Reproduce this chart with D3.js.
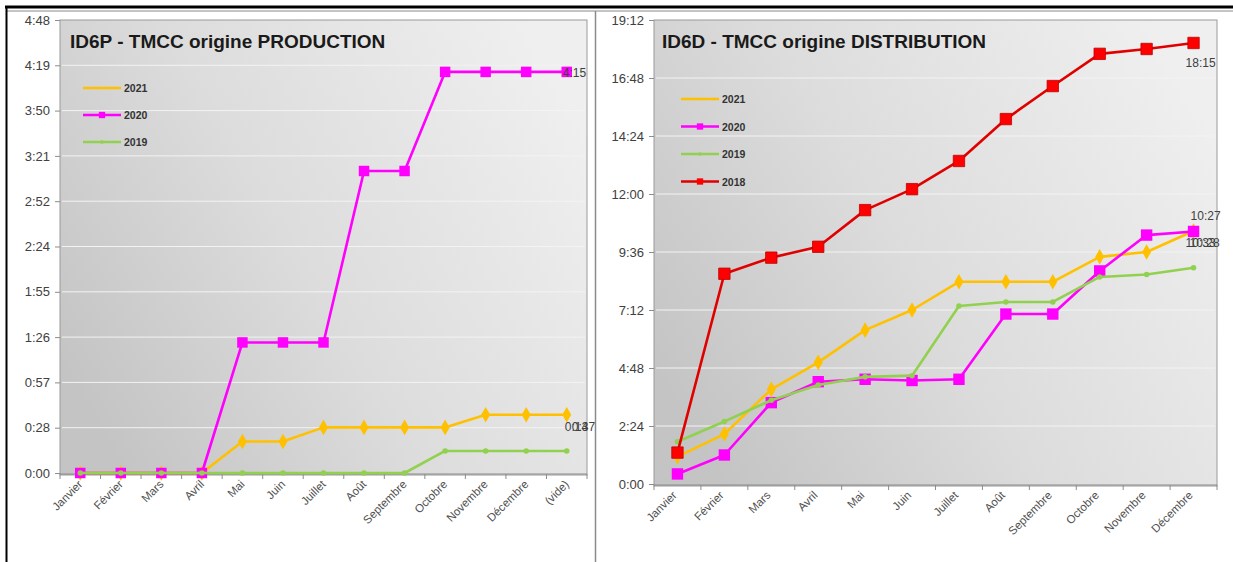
<!DOCTYPE html>
<html lang="fr">
    <head>
        <meta charset="utf-8">
        <title>ID6P / ID6D - TMCC</title>
        <script src="https://d3js.org/d3.v7.min.js"></script>
        <style type="text/css">
          body { margin: 0; background: #fff; }
          svg { width: 1233px; height: 562px; display: block; }
          .title { font-family: "Liberation Sans", Arial, sans-serif; font-size: 19px; font-weight: bold; fill: #1a1a1a; }
          .ylab { font-family: "Liberation Sans", Arial, sans-serif; font-size: 13px; fill: #404040; }
          .xlab { font-family: "Liberation Sans", Arial, sans-serif; font-size: 11.5px; fill: #505050; }
          .leg { font-family: "Liberation Sans", Arial, sans-serif; font-size: 10.5px; font-weight: bold; fill: #333; }
          .dlab { font-family: "Liberation Sans", Arial, sans-serif; font-size: 12px; fill: #404040; }
        </style>
    </head>
    <body>
        <svg></svg>
        <script type="text/javascript">

        // ---- data (durations as h:mm) ----
        const monthsP = ["Janvier", "Février", "Mars", "Avril", "Mai", "Juin", "Juillet", "Août", "Septembre", "Octobre", "Novembre", "Décembre", "(vide)"];
        const prod2021 = ["0:00", "0:00", "0:00", "0:00", "0:20", "0:20", "0:29", "0:29", "0:29", "0:29", "0:37", "0:37", "0:37"];
        const prod2020 = ["0:00", "0:00", "0:00", "0:00", "1:23", "1:23", "1:23", "3:12", "3:12", "4:15", "4:15", "4:15", "4:15"];
        const prod2019 = ["0:00", "0:00", "0:00", "0:00", "0:00", "0:00", "0:00", "0:00", "0:00", "0:14", "0:14", "0:14", "0:14"];
        const prodTicks = ["0:00", "0:28", "0:57", "1:26", "1:55", "2:24", "2:52", "3:21", "3:50", "4:19", "4:48"];
        const prodEndLabels = ["0:37", "4:15", "0:14"];

        const monthsD = ["Janvier", "Février", "Mars", "Avril", "Mai", "Juin", "Juillet", "Août", "Septembre", "Octobre", "Novembre", "Décembre"];
        const dist2021 = ["1:08", "2:04", "3:55", "5:02", "6:22", "7:12", "8:22", "8:22", "8:22", "9:24", "9:36", "10:28"];
        const dist2020 = ["0:25", "1:12", "3:22", "4:14", "4:20", "4:17", "4:20", "7:02", "7:02", "8:49", "10:18", "10:27"];
        const dist2019 = ["1:45", "2:35", "3:28", "4:06", "4:26", "4:29", "7:22", "7:32", "7:32", "8:34", "8:40", "8:57"];
        const dist2018 = ["1:18", "8:42", "9:22", "9:49", "11:20", "12:12", "13:22", "15:06", "16:28", "17:48", "18:00", "18:15"];
        const distTicks = ["0:00", "2:24", "4:48", "7:12", "9:36", "12:00", "14:24", "16:48", "19:12"];
        const distEndLabels = ["10:28", "10:27", "10:33", "18:15"];

        const toMin = s => { const p = s.split(":"); return +p[0] * 60 + +p[1]; };

        const svg = d3.select("svg");
        const defs = svg.append("defs");

        // plot area fill + inner shadow
        const grad = defs.append("linearGradient").attr("id", "plotGrad")
            .attr("x1", 0).attr("y1", 0.75).attr("x2", 1).attr("y2", 0.25);
        grad.append("stop").attr("offset", 0).attr("stop-color", "#c4c4c4");
        grad.append("stop").attr("offset", 0.45).attr("stop-color", "#dcdcdc");
        grad.append("stop").attr("offset", 1).attr("stop-color", "#efefef");

        const f = defs.append("filter").attr("id", "inset").attr("x", 0).attr("y", 0).attr("width", 1).attr("height", 1);
        f.append("feFlood").attr("flood-color", "#000").attr("flood-opacity", 0.6);
        f.append("feComposite").attr("in2", "SourceAlpha").attr("operator", "out");
        f.append("feGaussianBlur").attr("stdDeviation", 3.5);
        f.append("feOffset").attr("dx", 0).attr("dy", 1);
        f.append("feComposite").attr("in2", "SourceAlpha").attr("operator", "in").attr("result", "shadow");
        const fm = f.append("feMerge");
        fm.append("feMergeNode").attr("in", "SourceGraphic");
        fm.append("feMergeNode").attr("in", "shadow");

        // frame
        svg.append("line").attr("x1", 5).attr("x2", 1233).attr("y1", 7).attr("y2", 7)
           .attr("stroke", "#000").attr("stroke-width", 3);
        svg.append("line").attr("x1", 7).attr("x2", 1233).attr("y1", 11).attr("y2", 11)
           .attr("stroke", "#b0b0b0").attr("stroke-width", 1.5);
        svg.append("line").attr("x1", 6.5).attr("x2", 6.5).attr("y1", 6).attr("y2", 562)
           .attr("stroke", "#000").attr("stroke-width", 2);
        svg.append("line").attr("x1", 595.5).attr("x2", 595.5).attr("y1", 11).attr("y2", 562)
           .attr("stroke", "#8a8a8a").attr("stroke-width", 1.5);

        const marker = {
          diamond: d3.symbol().type(d3.symbolDiamond).size(70),
          square: d3.symbol().type(d3.symbolSquare).size(110),
          bigsquare: d3.symbol().type(d3.symbolSquare).size(130),
          circle: d3.symbol().type(d3.symbolCircle).size(24)
        };

        function drawChart(cfg) {
          const g = svg.append("g");
          const x = d3.scaleBand().domain(cfg.cats).range([cfg.left, cfg.right]);
          const tickVals = cfg.ticks.map((t, i) => i * cfg.step);
          const y = d3.scaleLinear().domain([0, d3.max(tickVals)]).range([cfg.bottom, cfg.top]);
          const cx = c => x(c) + x.bandwidth() / 2;

          g.append("rect")
           .attr("x", cfg.left).attr("y", cfg.top)
           .attr("width", cfg.right - cfg.left).attr("height", cfg.bottom - cfg.top + 2)
           .attr("fill", "url(#plotGrad)").attr("filter", "url(#inset)");
          g.append("rect")
           .attr("x", cfg.left).attr("y", cfg.top)
           .attr("width", cfg.right - cfg.left).attr("height", cfg.bottom - cfg.top + 2)
           .attr("fill", "none").attr("stroke", "#9a9a9a").attr("stroke-width", 1);

          // gridlines
          g.selectAll(".grid").data(tickVals.slice(1, -1)).enter().append("line")
           .attr("x1", cfg.left + 2).attr("x2", cfg.right - 2)
           .attr("y1", d => y(d)).attr("y2", d => y(d))
           .attr("stroke", "#f3f3f3").attr("stroke-width", 1);

          // y axis
          const yAxis = d3.axisLeft(y).tickValues(tickVals).tickSize(5)
                          .tickFormat((d, i) => cfg.ticks[i]);
          const ya = g.append("g").attr("transform", "translate(" + cfg.left + ",0)").call(yAxis);
          ya.select(".domain").remove();
          ya.selectAll(".tick line").attr("stroke", "#8c8c8c");
          ya.selectAll(".tick text").attr("class", "ylab").attr("x", -10).attr("fill", null);

          // x axis: ticks between categories
          g.append("line").attr("x1", cfg.left).attr("x2", cfg.right)
           .attr("y1", cfg.bottom + 1).attr("y2", cfg.bottom + 1)
           .attr("stroke", "#8c8c8c").attr("stroke-width", 1.2);
          g.selectAll(".xt").data(cfg.cats.concat([null])).enter().append("line")
           .attr("x1", (d, i) => cfg.left + i * x.bandwidth())
           .attr("x2", (d, i) => cfg.left + i * x.bandwidth())
           .attr("y1", cfg.bottom + 1).attr("y2", cfg.bottom + 6)
           .attr("stroke", "#8c8c8c");
          g.selectAll(".xl").data(cfg.cats).enter().append("text")
           .attr("class", "xlab")
           .attr("text-anchor", "end")
           .attr("transform", d => "translate(" + (cx(d) + cfg.xlabDx) + "," + (cfg.bottom + 12) + ") rotate(-45)")
           .text(d => d);

          // series
          const line = d3.line().x(d => cx(d.c)).y(d => y(d.v));
          cfg.series.forEach(s => {
            const pts = s.values.map((v, i) => ({ c: cfg.cats[i], v: toMin(v) }));
            g.append("path").attr("d", line(pts))
             .attr("fill", "none").attr("stroke", s.line || s.color)
             .attr("stroke-width", s.width || 2.6).attr("stroke-linejoin", "round");
            g.selectAll(null).data(pts).enter().append("path")
             .attr("d", marker[s.marker])
             .attr("transform", d => "translate(" + cx(d.c) + "," + y(d.v) + ")")
             .attr("fill", s.color).attr("stroke", s.mstroke || "none").attr("stroke-width", 0.8);
          });

          // end labels
          cfg.series.forEach((s, i) => {
            const last = s.values.length - 1;
            g.append("text").attr("class", "dlab")
             .attr("x", cx(cfg.cats[last]) + cfg.labelPos[i][0])
             .attr("y", y(toMin(s.values[last])) + cfg.labelPos[i][1])
             .text(cfg.endLabels[i]);
          });

          // legend
          cfg.series.forEach((s, i) => {
            const ly = cfg.legY + i * cfg.legGap;
            g.append("line").attr("x1", cfg.legX).attr("x2", cfg.legX + 38)
             .attr("y1", ly).attr("y2", ly)
             .attr("stroke", s.line || s.color).attr("stroke-width", 2.6);
            if (s.marker !== "diamond") {
              g.append("path").attr("d", d3.symbol().type(s.marker === "circle" ? d3.symbolCircle : d3.symbolSquare).size(s.marker === "circle" ? 10 : 40))
               .attr("transform", "translate(" + (cfg.legX + 19) + "," + ly + ")")
               .attr("fill", s.color);
            }
            g.append("text").attr("class", "leg")
             .attr("x", cfg.legX + 41).attr("y", ly + 4)
             .text(s.name);
          });

          // title
          g.append("text").attr("class", "title")
           .attr("x", cfg.titleX).attr("y", 48).text(cfg.title);
        }

        drawChart({
          title: "ID6P - TMCC origine PRODUCTION", titleX: 70,
          cats: monthsP, ticks: prodTicks, step: 28.8,
          left: 60, right: 587, top: 20, bottom: 473, xlabDx: 3,
          series: [
            { name: "2021", values: prod2021, color: "#FFC000", marker: "diamond" },
            { name: "2020", values: prod2020, color: "#FF00FF", marker: "square" },
            { name: "2019", values: prod2019, color: "#92D050", marker: "circle" }
          ],
          endLabels: prodEndLabels,
          labelPos: [[5, 16], [-4, 5], [-2, -20]],
          legX: 83, legY: 88, legGap: 27
        });

        drawChart({
          title: "ID6D - TMCC origine DISTRIBUTION", titleX: 662,
          cats: monthsD, ticks: distTicks, step: 144,
          left: 654, right: 1217, top: 20, bottom: 484, xlabDx: 0,
          series: [
            { name: "2021", values: dist2021, color: "#FFC000", marker: "diamond" },
            { name: "2020", values: dist2020, color: "#FF00FF", marker: "bigsquare" },
            { name: "2019", values: dist2019, color: "#92D050", marker: "circle" },
            { name: "2018", values: dist2018, color: "#FF0000", line: "#E00000", marker: "bigsquare", mstroke: "#c00000" }
          ],
          endLabels: distEndLabels,
          labelPos: [[-4, 16], [-3, -11], [-8, -21], [-8, 24]],
          legX: 681, legY: 99, legGap: 27.5
        });
        </script>
    </body>
</html>
